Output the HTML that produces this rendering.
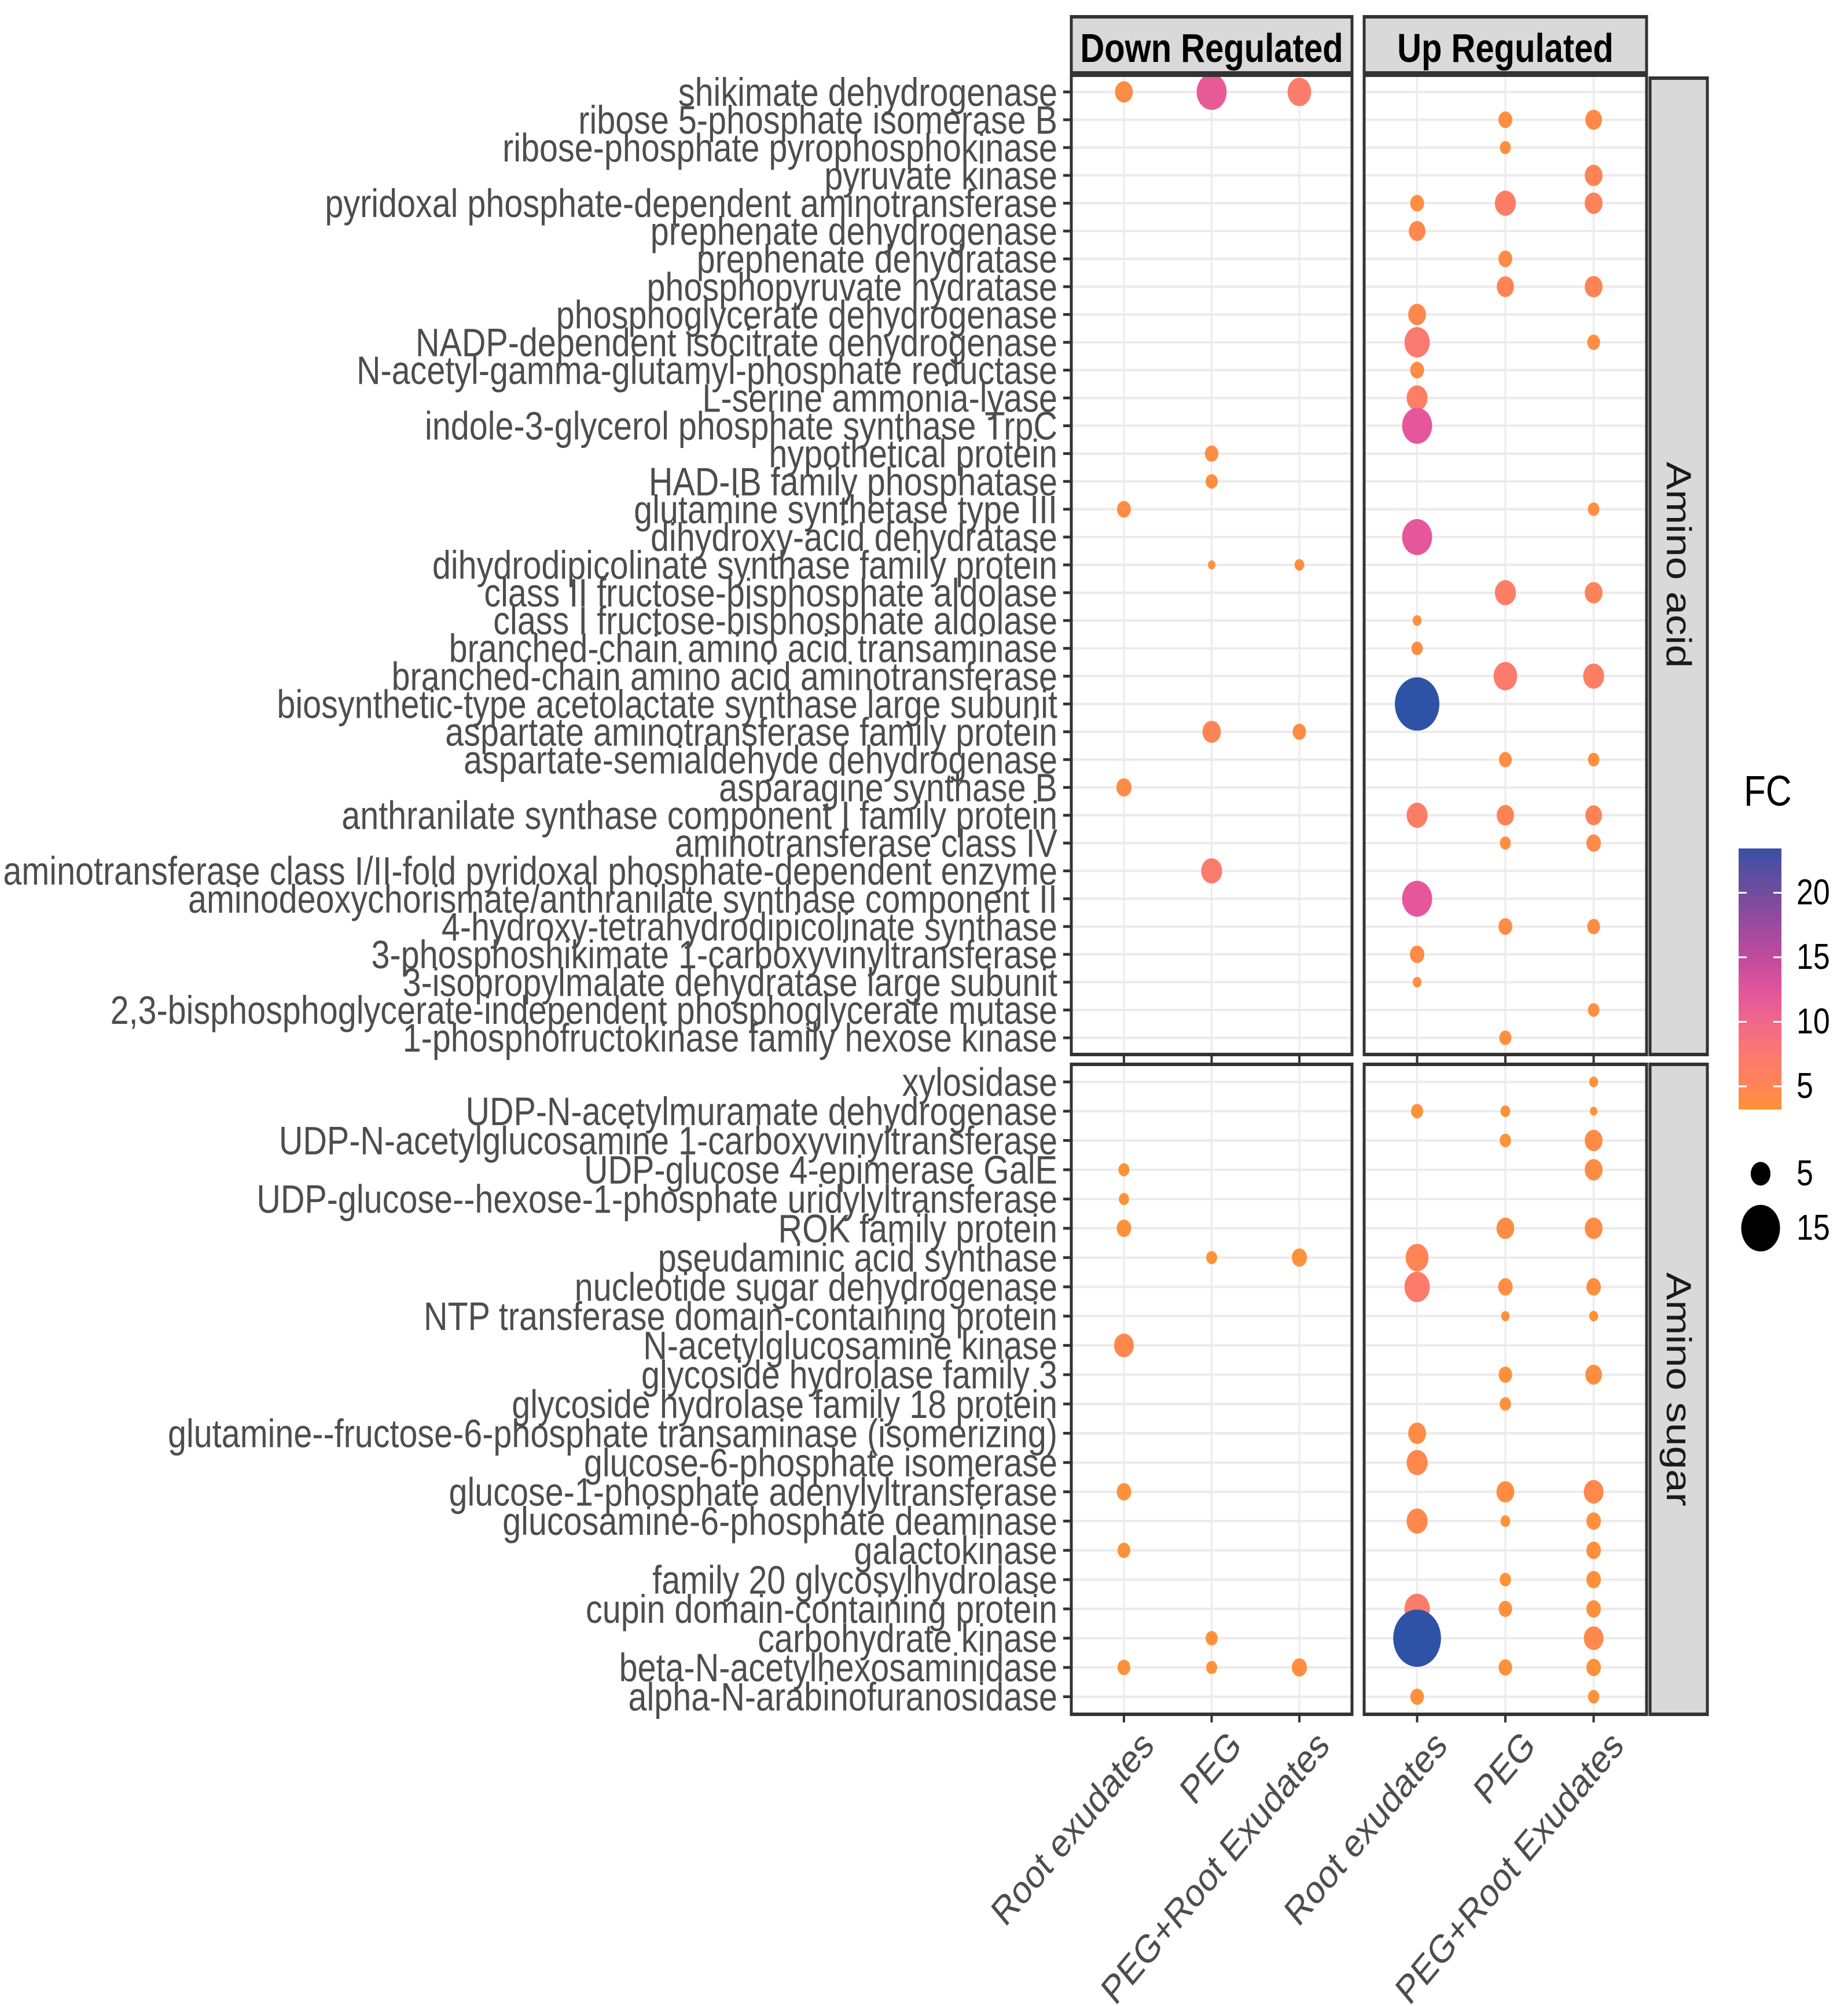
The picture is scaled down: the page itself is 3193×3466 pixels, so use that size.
<!DOCTYPE html>
<html><head><meta charset="utf-8"><style>
html,body{margin:0;padding:0;background:#fff;}
svg{display:block;}
text{font-family:"Liberation Sans",Arial,sans-serif;}
</style></head>
<body>
<svg id="chart" width="3193" height="3466" viewBox="0 0 3193 3466" xmlns="http://www.w3.org/2000/svg">
<g id="root" transform="scale(1,1.2)"></g>
</svg>
<script>
// ---------- data ----------
const topRows = ["shikimate dehydrogenase","ribose 5-phosphate isomerase B","ribose-phosphate pyrophosphokinase","pyruvate kinase","pyridoxal phosphate-dependent aminotransferase","prephenate dehydrogenase","prephenate dehydratase","phosphopyruvate hydratase","phosphoglycerate dehydrogenase","NADP-dependent isocitrate dehydrogenase","N-acetyl-gamma-glutamyl-phosphate reductase","L-serine ammonia-lyase","indole-3-glycerol phosphate synthase TrpC","hypothetical protein","HAD-IB family phosphatase","glutamine synthetase type III","dihydroxy-acid dehydratase","dihydrodipicolinate synthase family protein","class II fructose-bisphosphate aldolase","class I fructose-bisphosphate aldolase","branched-chain amino acid transaminase","branched-chain amino acid aminotransferase","biosynthetic-type acetolactate synthase large subunit","aspartate aminotransferase family protein","aspartate-semialdehyde dehydrogenase","asparagine synthase B","anthranilate synthase component I family protein","aminotransferase class IV","aminotransferase class I/II-fold pyridoxal phosphate-dependent enzyme","aminodeoxychorismate/anthranilate synthase component II","4-hydroxy-tetrahydrodipicolinate synthase","3-phosphoshikimate 1-carboxyvinyltransferase","3-isopropylmalate dehydratase large subunit","2,3-bisphosphoglycerate-independent phosphoglycerate mutase","1-phosphofructokinase family hexose kinase"];
const bottomRows = ["xylosidase","UDP-N-acetylmuramate dehydrogenase","UDP-N-acetylglucosamine 1-carboxyvinyltransferase","UDP-glucose 4-epimerase GalE","UDP-glucose--hexose-1-phosphate uridylyltransferase","ROK family protein","pseudaminic acid synthase","nucleotide sugar dehydrogenase","NTP transferase domain-containing protein","N-acetylglucosamine kinase","glycoside hydrolase family 3","glycoside hydrolase family 18 protein","glutamine--fructose-6-phosphate transaminase (isomerizing)","glucose-6-phosphate isomerase","glucose-1-phosphate adenylyltransferase","glucosamine-6-phosphate deaminase","galactokinase","family 20 glycosylhydrolase","cupin domain-containing protein","carbohydrate kinase","beta-N-acetylhexosaminidase","alpha-N-arabinofuranosidase"];
const conditions = ["Root exudates","PEG","PEG+Root Exudates"];
const regulation = ["Down Regulated","Up Regulated"];
const facets = ["Amino acid","Amino sugar"];

// Amino acid facet points: panel (0 down, 1 up), row index, condition index, size, FC
const aaPanel = [0,0,0,1,1,1,1,1,1,1, 1,1,1,1,1,1,1,1,1,1, 0,0,0,1,1,0,0,1,1,1, 1,1,1,1,0,0,1,1,0,1, 1,1,1,1,0,1,1,1,1,1, 1,1];
const aaRow = [0,0,0,1,1,2,3,4,4,4, 5,6,7,7,8,9,9,10,11,12, 13,14,15,15,16,17,17,18,18,19, 20,21,21,22,23,23,24,24,25,26, 26,26,27,27,28,29,30,30,31,32, 33,34];
const aaCond = [0,1,2,1,2,1,2,0,1,2, 0,1,1,2,0,0,2,0,0,0, 1,1,0,2,0,1,2,1,2,0, 0,1,2,0,1,2,1,2,0,0, 1,2,1,2,1,0,1,2,0,0, 2,1];
const aaSize = [4.3,9.7,6.6,3.0,3.9,2.2,4.3,3.0,5.5,4.3, 3.9,3.0,4.1,4.3,4.3,7.4,2.7,3.0,5.5,9.7, 2.9,2.5,3.0,2.3,9.7,1.4,1.9,5.5,4.3,1.7, 2.3,6.6,5.5,19,4.5,2.9,2.7,2.3,3.4,5.5, 4.1,3.9,2.2,3.2,5.5,9.7,3.0,2.7,3.2,1.7, 2.3,2.5];
const aaFC = [4,11.5,7,3.8,4.2,3.6,5,3.8,6.5,5.5, 4.5,4,5,5,4.5,7.5,3.8,4,6.5,12, 3.8,3.7,4,3.7,12,3.5,3.6,6.5,5.5,3.5, 3.7,7,6.5,24,5,4,3.8,3.7,4,6.5, 5,5,3.6,4.3,7,12,4,4,4,3.5, 3.7,3.7];

// Amino sugar facet points
const asPanel = [1,1,1,1,1,1,0,1,0,0, 1,1,0,0,1,1,1,1,1,1, 0,1,1,1,1,1,0,1,1,1, 1,1,0,1,1,1,1,1,1,0, 1,1,0,0,0,1,1,1,1];
const asRow = [0,1,1,1,2,2,3,3,4,5, 5,5,6,6,6,7,7,7,8,8, 9,10,10,11,12,13,14,14,14,15, 15,15,16,16,17,17,18,18,18,19, 19,19,20,20,20,20,20,21,21];
const asCond = [2,0,1,2,1,2,0,2,0,0, 1,2,1,2,0,0,1,2,1,2, 0,1,2,1,0,0,0,1,2,0, 1,2,0,2,1,2,0,1,2,1, 0,2,0,1,2,1,2,0,2];
const asSize = [1.7,2.5,1.9,1.4,2.3,4.3,2.2,4.3,2.0,3.2, 4.3,4.3,2.2,3.4,6.3,7.4,3.2,3.2,1.6,1.7, 5.0,2.9,3.9,2.3,4.3,5.5,3.2,4.3,5.0,5.5, 1.9,3.2,2.7,3.2,2.3,3.2,7.4,2.9,3.2,2.5, 21.5,5.0,2.7,2.2,3.4,2.9,3.2,2.9,2.3];
const asFC = [3.2,3.3,3.2,3.2,3.3,4,3.2,4,3.2,3.4, 4,4,3.2,3.4,5,7,3.8,3.8,3.2,3.2, 4.5,3.4,3.8,3.3,4,4.5,3.4,3.8,4.5,4.5, 3.2,3.5,3.4,3.5,3.3,3.5,7,3.5,3.5,3.3, 24,4.5,3.4,3.3,3.6,3.5,3.5,3.5,3.3];

// colour scale
const fcStops = [3, 5, 7.5, 10, 12, 15, 20, 24];
const fcColors = ["#FF9433","#FF8455","#FB7A70","#F06888","#E5579A","#C04A9E","#734C9E","#2E52A5"];
const colorTicks = [5, 10, 15, 20];
const sizeTicks = [5, 15];

// ---------- layout ----------
const S = 1.2;
const Y = v => v / S;
const panelX = [[1851, 2336], [2357, 2845]];
const facetY = [[130, 1822], [1839, 2962]];
const facetRows = [topRows, bottomRows];
const svgNS = "http://www.w3.org/2000/svg";
const root = document.getElementById("root");

function el(tag, attrs, parent) {
  const e = document.createElementNS(svgNS, tag);
  for (const k in attrs) e.setAttribute(k, attrs[k]);
  (parent || root).appendChild(e);
  return e;
}
function xScale(panel, cond) {
  const [a, b] = panelX[panel];
  const unit = (b - a) / (conditions.length - 1 + 1.2);
  return a + unit * (0.6 + cond);
}
function yScale(facet, row) {
  const [a, b] = facetY[facet];
  const n = facetRows[facet].length;
  const unit = (b - a) / (n - 1 + 1.2);
  return a + unit * (0.6 + row);
}
function sizeW(v) { return 1.1 * (18.33 * Math.sqrt(v) - 10); }
function hex2rgb(h) { return [1,3,5].map(i => parseInt(h.substr(i,2),16)); }
function colorOf(v) {
  if (v <= fcStops[0]) return fcColors[0];
  for (let i = 1; i < fcStops.length; i++) {
    if (v <= fcStops[i]) {
      const t = (v - fcStops[i-1]) / (fcStops[i] - fcStops[i-1]);
      const a = hex2rgb(fcColors[i-1]), b = hex2rgb(fcColors[i]);
      return "rgb(" + a.map((c, k) => Math.round(c + (b[k]-c)*t)).join(",") + ")";
    }
  }
  return fcColors[fcColors.length-1];
}

// ---------- strip headers ----------
for (let p = 0; p < 2; p++) {
  const [a, b] = panelX[p];
  const r = el("rect", {x:a, y:Y(29), width:b-a, height:Y(126)-Y(29), fill:"#D9D9D9", stroke:"#333333", "stroke-width":5});
  
  
  const t = el("text", {x:(a+b)/2, y:Y(107), "text-anchor":"middle", "font-size":58, "font-weight":"bold", fill:"#000"});
  t.textContent = regulation[p];
  
  
}

// ---------- panels ----------
for (let f = 0; f < 2; f++) {
  const [ya, yb] = facetY[f];
  for (let p = 0; p < 2; p++) {
    const [xa, xb] = panelX[p];
    const bg = el("rect", {x:xa, y:Y(ya), width:xb-xa, height:Y(yb)-Y(ya), fill:"#fff"});
    
    
    for (let c = 0; c < conditions.length; c++) {
      const x = xScale(p, c);
      const g = el("line", {x1:x, x2:x, y1:Y(ya), y2:Y(yb), stroke:"#EBEBEB", "stroke-width":3});
      
      
    }
    facetRows[f].forEach((name, i) => {
      const y = Y(yScale(f, i));
      const g = el("line", {x1:xa, x2:xb, y1:y, y2:y, stroke:"#EBEBEB", "stroke-width":3.5});
      
      
    });
  }
}

// points
function drawPoints(facet, panels, rows, conds, sizes, fcs) {
  for (let k = 0; k < rows.length; k++) {
    const cx = xScale(panels[k], conds[k]);
    const cy = Y(yScale(facet, rows[k]));
    const c = el("circle", {cx:cx, cy:cy, r:sizeW(sizes[k])/2, fill:colorOf(fcs[k])});
    
    
  }
}
drawPoints(0, aaPanel, aaRow, aaCond, aaSize, aaFC);
drawPoints(1, asPanel, asRow, asCond, asSize, asFC);

// panel borders, strips, labels
for (let f = 0; f < 2; f++) {
  const [ya, yb] = facetY[f];
  for (let p = 0; p < 2; p++) {
    const [xa, xb] = panelX[p];
    const r = el("rect", {x:xa, y:Y(ya), width:xb-xa, height:Y(yb)-Y(ya), fill:"none", stroke:"#333333", "stroke-width":5});
    
    
    for (let c = 0; c < conditions.length; c++) {
      const x = xScale(p, c);
      const t = el("line", {x1:x, x2:x, y1:Y(yb), y2:Y(yb+14), stroke:"#333333", "stroke-width":4});
      
      
    }
  }
  const s = el("rect", {x:2851, y:Y(ya+(f===0?5:0)), width:99, height:Y(yb)-Y(ya+(f===0?5:0)), fill:"#D9D9D9", stroke:"#333333", "stroke-width":5});
  
  
  const cy = Y((ya + yb) / 2);
  const st = el("text", {x:0, y:0, "text-anchor":"middle", "font-size":60, fill:"#1a1a1a",
    transform:"translate(2880," + cy + ") rotate(90)"});
  st.textContent = facets[f];
  
  
  facetRows[f].forEach((name, i) => {
    const yy = yScale(f, i);
    const tk = el("line", {x1:1837, x2:1851, y1:Y(yy), y2:Y(yy), stroke:"#333333", "stroke-width":4});
    
    
    const t = el("text", {x:1827, y:Y(yy + 24), "text-anchor":"end", "font-size":57.5, fill:"#4D4D4D"});
    t.textContent = name;
    
    
  });
}

// x-axis labels
for (let p = 0; p < 2; p++) {
  for (let c = 0; c < conditions.length; c++) {
    const x = xScale(p, c) + 26;
    const y = Y(2985);
    const t = el("text", {x:0, y:0, "text-anchor":"end", "dominant-baseline":"hanging", "font-size":57, fill:"#4D4D4D",
      transform:"translate(" + x + "," + y + ") rotate(-45)"});
    t.textContent = conditions[c];
    
    
  }
}

// ---------- legend ----------
const lgTitle = el("text", {x:3013, y:Y(1392), "font-size":62, fill:"#000"});
lgTitle.textContent = "FC";



const barTop = 1466, barBot = 1917, barX = 3004, barW = 74;
const vAt = yy => 5 + (1877 - yy) / 22.3;
const yAt = v => 1877 - (v - 5) * 22.3;
const defs = el("defs", {});
const grad = el("linearGradient", {id:"fcgrad", x1:0, y1:1, x2:0, y2:0}, defs);
for (let i = 0; i <= 20; i++) {
  const yy = barBot - (barBot - barTop) * i / 20;
  el("stop", {offset:(i/20), "stop-color":colorOf(vAt(yy))}, grad);
}
const bar = el("rect", {x:barX, y:Y(barTop), width:barW, height:Y(barBot)-Y(barTop), fill:"url(#fcgrad)"});


colorTicks.forEach(v => {
  const yy = Y(yAt(v));
  const l1 = el("line", {x1:barX, x2:barX+14, y1:yy, y2:yy, stroke:"#fff", "stroke-width":2.5});
  
  
  const l2 = el("line", {x1:barX+barW-14, x2:barX+barW, y1:yy, y2:yy, stroke:"#fff", "stroke-width":2.5});
  
  
  const t = el("text", {x:3104, y:Y(yAt(v) + 20), "font-size":52, fill:"#000"});
  t.textContent = String(v);
  
  
});
const sizeY = [2028, 2122];
sizeTicks.forEach((v, i) => {
  const c = el("circle", {cx:3042, cy:Y(sizeY[i]), r:sizeW(v)/2, fill:"#000"});
  
  
  const t = el("text", {x:3104, y:Y(sizeY[i] + 20), "font-size":52, fill:"#000"});
  t.textContent = String(v);
  
  
});
</script>
</body></html>
